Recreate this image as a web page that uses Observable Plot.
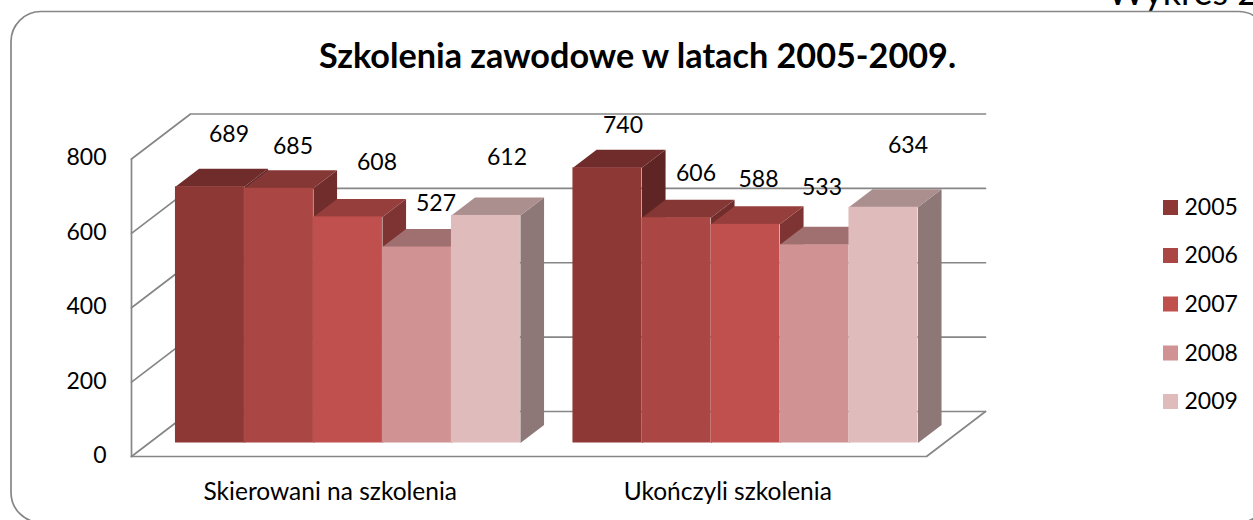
<!DOCTYPE html>
<html><head><meta charset="utf-8">
<script src="https://cdn.jsdelivr.net/npm/d3@7"></script>
<script src="https://cdn.jsdelivr.net/npm/@observablehq/plot@0.6"></script>
<style>html,body{margin:0;padding:0;background:#fff;overflow:hidden}svg{display:block}</style>
</head><body><div id="chart"></div>
<script>
// --- data ---
const categories = ["Skierowani na szkolenia", "Ukończyli szkolenia"];
const years = ["2005", "2006", "2007", "2008", "2009"];
const referred = [689, 685, 608, 527, 612];
const completed = [740, 606, 588, 533, 634];
const yTicks = [0, 200, 400, 600, 800];
const titleText = "Szkolenia zawodowe w latach 2005-2009.";
const cornerText = "Wykres 2";

// --- styles / layout ---
const frontColors = ["#8e3836", "#aa4643", "#bf504d", "#d09292", "#e0bbbb"];
const topColors = ["#702c2b", "#853735", "#953e3c", "#a07070", "#ab8e8e"];
const sideColors = ["#5e2524", "#702d2b", "#7e3432", "#8a6161", "#8e7777"];
const W = 1253, H = 520;
const xRange = [131, 926], yRange = [456, 158.5];
const pxPerX = (xRange[1] - xRange[0]) / 2;
const pxPerY = (yRange[0] - yRange[1]) / 800;
const fx = px => (px - xRange[0]) / pxPerX;   // pixel -> x domain (layout of annotations)
const fy = py => (yRange[0] - py) / pxPerY;   // pixel -> y domain
const DEPTH_X = 59 / pxPerX, DEPTH_Y = 45 / pxPerY;   // floor depth in domain units
const proj = (x, v, d) => ({x: x + d * DEPTH_X, y: v + d * DEPTH_Y});
const BAR = 69 / pxPerX, GAP = 1 - 5 * BAR;
const D0 = 0.30, D1 = 0.70;  // depth of bar front and back
const font = "Lato, Carlito, sans-serif";
const ink = "#000";
const grid = "#868686";
// label nudges from bar centre/top, px
const nudge = [[[18.5, -52], [13.5, -41], [28.5, -54], [18.5, -43], [20.5, -57]],
               [[16.5, -42], [20.5, -43.5], [14, -44], [8.5, -57], [25.5, -61.5]]];

const marks = [];
// walls
const line = (pts, o = {}) => Plot.line(pts, {x: "x", y: "y", stroke: grid, strokeWidth: 1.7, ...o});
for (const t of yTicks) {
  marks.push(line([proj(0, t, 0), proj(0, t, 1), proj(2, t, 1)]));
}
marks.push(line([proj(0, 0, 0), proj(2, 0, 0), proj(2, 0, 1)]));
marks.push(line([proj(0, 0, 0), proj(0, 800, 0)]));

// bars, painted left to right
[referred, completed].forEach((series, c) => {
  series.forEach((v, i) => {
    const x0 = c + GAP / 2 + i * BAR, x1 = x0 + BAR;
    const xa = x0 + D0 * DEPTH_X, xb = x1 + D0 * DEPTH_X;
    const side = [proj(x1, 0, D0), proj(x1, v, D0), proj(x1, v, D1), proj(x1, 0, D1)];
    const top = [proj(x0, v, D0), proj(x1, v, D0), proj(x1, v, D1), proj(x0, v, D1)];
    marks.push(Plot.line(side, {x: "x", y: "y", fill: sideColors[i], stroke: "none"}));
    marks.push(Plot.line(top, {x: "x", y: "y", fill: topColors[i], stroke: "none"}));
    marks.push(Plot.rect([{v}], {x1: () => xa, x2: () => xb,
      y1: () => D0 * DEPTH_Y, y2: d => d.v + D0 * DEPTH_Y, fill: frontColors[i]}));
  });
});
// value labels
[referred, completed].forEach((series, c) => {
  marks.push(Plot.text(series, {
    x: (v, i) => c + GAP / 2 + (i + .5) * BAR + .31 * DEPTH_X + (nudge[c][i][0] - (c ? 1.5 : 0)) / pxPerX,
    y: (v, i) => v + .31 * DEPTH_Y - nudge[c][i][1] / pxPerY,
    text: v => String(v), fontSize: 23, fontFamily: font, fill: ink, textAnchor: "middle"
  }));
});
// axes
marks.push(Plot.axisY({ticks: yTicks, tickSize: 0, tickPadding: 0, dx: 106, dy: -1, label: null,
  fontSize: 23, fontFamily: font, color: ink}));
marks.push(Plot.axisX({ticks: [0.5, 1.5], tickFormat: d => categories[Math.floor(d)], anchor: "bottom",
  tickSize: 0, tickPadding: 0, dy: -38, label: null, fontSize: 24.5, fontFamily: font, color: ink}));
// title, corner text
marks.push(Plot.text([titleText], {x: fx(637), y: fy(57), text: d => d, fontSize: 34.2, fontWeight: 700, fontFamily: font, fill: ink}));
marks.push(Plot.text([cornerText], {x: fx(1107), y: fy(4), text: d => d, fontSize: 36, fontFamily: font, fill: ink, textAnchor: "start", lineAnchor: "bottom"}));
// legend
const legendY = [207.5, 255.5, 304, 353, 401.5];
marks.push(Plot.rect(years, {x1: fx(1163), x2: fx(1178), y1: (d, i) => fy(legendY[i] - 7.5), y2: (d, i) => fy(legendY[i] + 7.5),
  fill: (d, i) => frontColors[i]}));
marks.push(Plot.text(years, {x: fx(1184), y: (d, i) => fy(legendY[i]), text: d => d, fontSize: 23, fontFamily: font, fill: ink, textAnchor: "start"}));
// outer rounded border
marks.push(Plot.frame({rx: 30, stroke: grid, strokeWidth: 1.7, insetLeft: 10.5, insetTop: 11, insetRight: -15, insetBottom: -2}));

const chart = Plot.plot({
  width: W, height: H, marginTop: 0, marginRight: 0, marginBottom: 0, marginLeft: 0,
  x: {domain: [0, 2], range: xRange, axis: null},
  y: {domain: [0, 800], range: yRange, axis: null},
  style: {background: "#fff", fontFamily: font},
  marks
});
document.getElementById("chart").append(chart);
</script></body></html>
